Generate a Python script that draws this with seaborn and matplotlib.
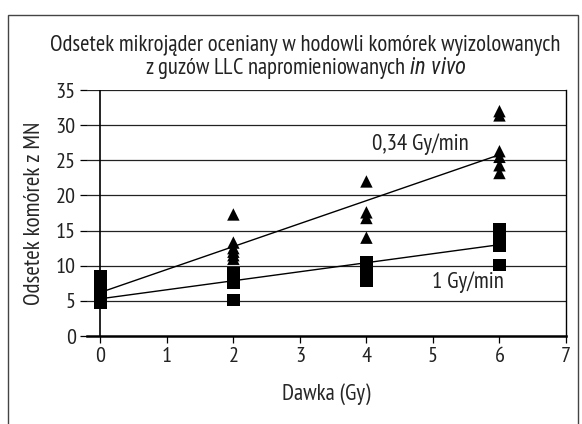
import numpy as np
import pandas as pd
import seaborn as sns
import matplotlib.pyplot as plt
from matplotlib.patches import Rectangle

# values
doses_low = [0, 0, 0, 0, 2, 2, 2, 2, 2, 2, 4, 4, 4, 4, 6, 6, 6, 6, 6, 6]
vals_low = [5.5, 6.0, 6.5, 7.0, 11.0, 11.5, 12.0, 12.5, 13.3, 17.3,
            14.0, 16.8, 17.6, 22.0, 23.2, 24.3, 25.5, 26.3, 31.4, 32.0]
doses_high = [0, 0, 0, 0, 0, 2, 2, 2, 2, 4, 4, 4, 4, 6, 6, 6, 6, 6, 6]
vals_high = [4.8, 5.5, 6.5, 7.5, 8.5, 5.1, 7.6, 8.3, 9.0,
             7.8, 8.6, 9.6, 10.5, 10.1, 12.8, 13.5, 14.1, 14.6, 15.2]
fit_x = [0, 6]
fit_low = [6.2, 25.8]
fit_high = [5.3, 13.0]

label_low = '0,34 Gy/min'
label_high = '1 Gy/min'

pts = pd.DataFrame({
    'dose': doses_low + doses_high,
    'val': vals_low + vals_high,
    'rate': [label_low] * len(doses_low) + [label_high] * len(doses_high),
})
fits = pd.DataFrame({
    'dose': fit_x + fit_x,
    'val': fit_low + fit_high,
    'rate': [label_low] * 2 + [label_high] * 2,
})

sns.set_style('white')
plt.rcParams['font.family'] = ['PT Sans Narrow', 'DejaVu Sans']
plt.rcParams['mathtext.fontset'] = 'custom'
plt.rcParams['mathtext.it'] = 'Roboto Condensed:italic'
plt.rcParams['mathtext.rm'] = 'PT Sans Narrow'
plt.rcParams['text.color'] = '#222222'

fig = plt.figure(figsize=(5.82, 4.24), dpi=100)
ax = fig.add_axes([0.1495, 0.2075, 0.823, 0.580])

for y in range(5, 36, 5):
    ax.axhline(y, color='#222222', lw=0.9, zorder=1)
ax.axvline(0, color='black', lw=1.2, zorder=1)

sns.lineplot(data=fits, x='dose', y='val', units='rate', estimator=None,
             color='black', lw=1.0, ax=ax, legend=False, zorder=2)
sns.scatterplot(data=pts, x='dose', y='val', style='rate',
                markers={label_low: '^', label_high: 's'},
                color='black', s=80, linewidth=0, ax=ax, legend=False, zorder=3)

ax.text(4.08, 27.3, label_low, fontsize=16.5, va='center')
ax.text(4.98, 7.7, label_high, fontsize=16.5, va='center')

ax.set_xlim(-0.2, 7)
ax.set_ylim(0, 35)
ax.set_xticks(range(0, 8))
ax.set_yticks(range(0, 36, 5))
ax.tick_params(axis='both', labelsize=16, length=5, width=0.9, direction='out',
               left=True, bottom=True, color='black', labelcolor='#222222', pad=3)
ax.spines['left'].set_visible(False)
ax.spines['top'].set_visible(False)
ax.spines['right'].set_linewidth(1.0)
ax.spines['bottom'].set_linewidth(1.8)
for s in ['right', 'bottom']:
    ax.spines[s].set_color('black')
ax.set_xlabel('Dawka (Gy)', fontsize=16.5, labelpad=12)
ax.set_ylabel('Odsetek komórek z MN', fontsize=16.5, labelpad=8)

fig.text(0.525, 0.893, 'Odsetek mikrojąder oceniany w hodowli komórek wyizolowanych',
         ha='center', va='center', fontsize=16.3)
fig.text(0.525, 0.840, r'z guzów LLC napromieniowanych $\it{in\ vivo}$',
         ha='center', va='center', fontsize=16.3)

fig.patches.append(Rectangle((8 / 582, -0.05), 570 / 582, 1 - 15 / 424 + 0.05,
                             transform=fig.transFigure, fill=False,
                             edgecolor='#444444', lw=1.0))

fig.savefig('out.png', dpi=100)
